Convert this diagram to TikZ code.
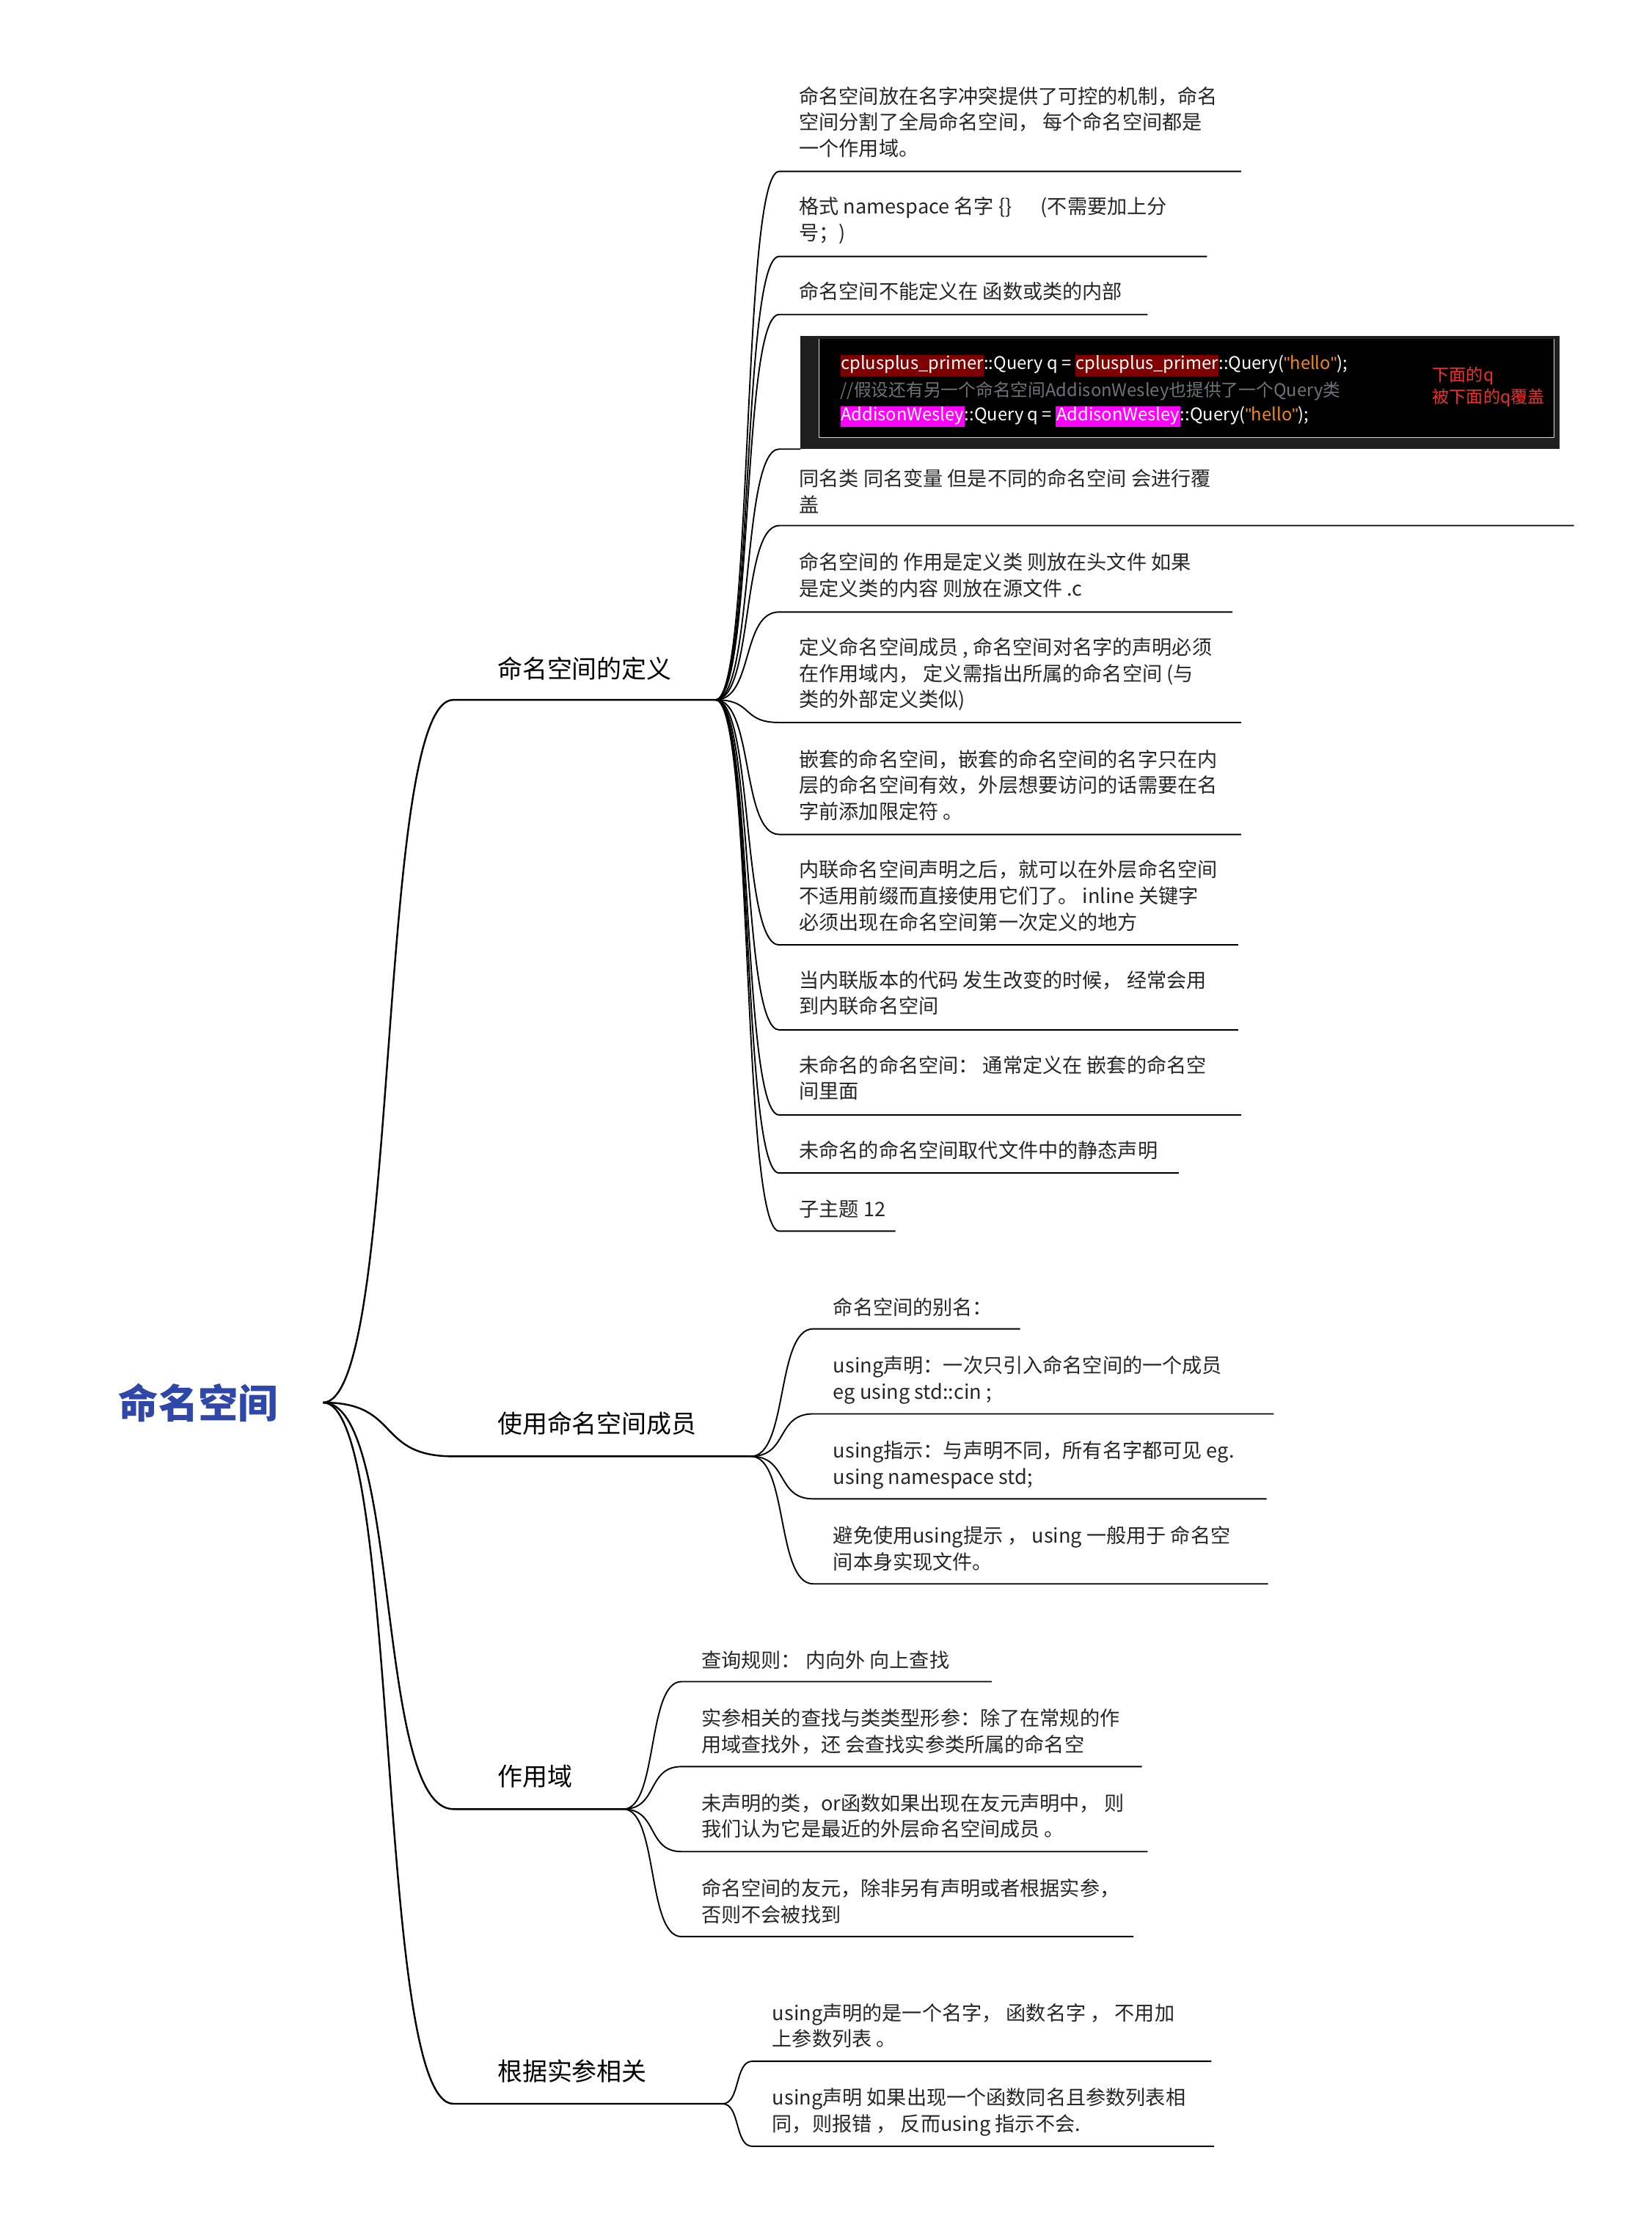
\documentclass[tikz,border=0pt]{standalone}
\usepackage{fontspec}
\setmainfont{Noto Sans CJK SC}
\newfontfamily\quotefont{Liberation Sans}
\usetikzlibrary{calc,positioning}
\definecolor{RootBlue}{HTML}{2E47A8}
\definecolor{HlRed}{HTML}{7F0000}
\definecolor{HlPink}{HTML}{FF00FF}
\definecolor{StrOrange}{HTML}{F08A1C}
\definecolor{CmtGray}{HTML}{6E7478}
\definecolor{NoteRed}{HTML}{F03030}
\newcommand\Hl[2]{{\setlength{\fboxsep}{0.5pt}\colorbox{#1}{\strut #2}}}
\newcommand\Qt{{\quotefont\symbol{34}}}
% curve from a parent point to the start of an underline, then the underline
\newcommand\Kid[7]{%
  \coordinate (#2-s) at (#3,#5);
  \coordinate (#2-e) at (#6,#5);
  \node[leaf] (#2) at (#3+14,#4-6) {#7};
  \draw[branch] (#1) .. controls ($(#1)!0.6!(#1 -| #2-s)$) and ($(#2-s)!0.6!(#2-s -| #1)$) .. (#2-s) -- (#2-e);
}
\begin{document}
\begin{tikzpicture}[x=0.5mm, y=-0.5mm,
                    branch/.style = { line width=1.4pt, black },
                    trunk/.style = { line width=1.8pt, black },
                    leaf/.style = { anchor=north west, inner sep=0pt, align=left,
                                    font=\fontsize{20}{26.3}\selectfont, text=black!85 },
                    topic/.style = { anchor=west, inner sep=0pt, font=\fontsize{25}{30}\selectfont },
                    code/.style = { anchor=west, inner sep=0pt, font=\fontsize{17.5}{20}\selectfont, text=white }]
  \useasboundingbox (0,0) rectangle (1166,1572);

  % root
  \node[anchor=center, inner sep=0pt, font=\fontsize{40}{44}\selectfont\bfseries, text=RootBlue] (root) at (140,990) {命名空间};
  \coordinate (root-r) at (228,990);

  % main topics
  \coordinate (def-s) at (320,494);  \coordinate (def-e) at (505,494);
  \coordinate (use-s) at (320,1028); \coordinate (use-e) at (530,1028);
  \coordinate (sco-s) at (320,1277); \coordinate (sco-e) at (440,1277);
  \coordinate (arg-s) at (320,1485); \coordinate (arg-e) at (510,1485);
  \node[topic] (def) at (351,472) {命名空间的定义};
  \node[topic] (use) at (351,1005) {使用命名空间成员};
  \node[topic] (sco) at (351,1254) {作用域};
  \node[topic] (arg) at (351,1462) {根据实参相关};
  \foreach \t in {def,use,sco,arg}
    \draw[trunk] (root-r) .. controls ($(root-r)!0.6!(root-r -| \t-s)$) and ($(\t-s)!0.6!(\t-s -| root-r)$) .. (\t-s) -- (\t-e);

  % definition
  \Kid{def-e}{d1}{550}{67}{121}{876}{命名空间放在名字冲突提供了可控的机制，命名\\空间分割了全局命名空间，  每个命名空间都是\\一个作用域。}
  \Kid{def-e}{d2}{550}{145}{181}{852}{格式 namespace 名字 \{\}  \quad\ (不需要加上分\\号；)}
  \Kid{def-e}{d3}{550}{205}{222}{810}{命名空间不能定义在 函数或类的内部}
  \fill[black!88] (565,237) rectangle (1101,317);
  \fill[black] (578,239) rectangle (1097,309);
  \draw[white!85!black, line width=0.8pt] (578,239) -- (578,309) -- (1097,309) -- (1097,239);
  \coordinate (d4-s) at (550,317); \coordinate (d4-e) at (565,317);
  \draw[branch] (def-e) .. controls ($(def-e)!0.6!(def-e -| d4-s)$) and ($(d4-s)!0.6!(d4-s -| def-e)$) .. (d4-s) -- (d4-e);
  \node[code] (c1) at (593,258) {\Hl{HlRed}{cplusplus\_primer}::Query q = \Hl{HlRed}{cplusplus\_primer}::Query(\textcolor{StrOrange}{\Qt hello\Qt});};
  \node[code, text=CmtGray] (c2) at (593,276) {//假设还有另一个命名空间AddisonWesley也提供了一个Query类};
  \node[code] (c3) at (593,294) {\Hl{HlPink}{AddisonWesley}::Query q = \Hl{HlPink}{AddisonWesley}::Query(\textcolor{StrOrange}{\Qt hello\Qt});};
  \node[code, text=NoteRed, font=\fontsize{17}{22}\selectfont, align=left] (note) at (1011,273) {下面的q\\被下面的q覆盖};
  \Kid{def-e}{d5}{550}{337}{371}{1111}{同名类 同名变量 但是不同的命名空间 会进行覆\\盖}
  \Kid{def-e}{d6}{550}{396}{432}{870}{命名空间的 作用是定义类  则放在头文件   如果\\是定义类的内容  则放在源文件 .c}
  \Kid{def-e}{d7}{550}{456}{510}{876}{定义命名空间成员 , 命名空间对名字的声明必须\\在作用域内，  定义需指出所属的命名空间   (与\\类的外部定义类似)}
  \Kid{def-e}{d8}{550}{535}{589}{876}{嵌套的命名空间，嵌套的命名空间的名字只在内\\层的命名空间有效，外层想要访问的话需要在名\\字前添加限定符 。}
  \Kid{def-e}{d9}{550}{613}{667}{874}{内联命名空间声明之后，就可以在外层命名空间\\不适用前缀而直接使用它们了。  inline 关键字\\必须出现在命名空间第一次定义的地方}
  \Kid{def-e}{d10}{550}{691}{727}{874}{当内联版本的代码 发生改变的时候，  经常会用\\到内联命名空间}
  \Kid{def-e}{d11}{550}{751}{787}{876}{未命名的命名空间：  通常定义在 嵌套的命名空\\间里面}
  \Kid{def-e}{d12}{550}{811}{828}{832}{未命名的命名空间取代文件中的静态声明}
  \Kid{def-e}{d13}{550}{853}{869}{632}{子主题 12}

  % using members
  \Kid{use-e}{u1}{574}{922}{938}{720}{命名空间的别名：}
  \Kid{use-e}{u2}{574}{963}{998}{899}{using声明：一次只引入命名空间的一个成员\\eg using std::cin ;}
  \Kid{use-e}{u3}{574}{1023}{1058}{894}{using指示：与声明不同，所有名字都可见  eg.\\using namespace std;}
  \Kid{use-e}{u4}{574}{1083}{1118}{895}{避免使用using提示 ，  using 一般用于 命名空\\间本身实现文件。}

  % scope
  \Kid{sco-e}{s1}{481}{1171}{1187}{700}{查询规则：  内向外  向上查找}
  \Kid{sco-e}{s2}{481}{1212}{1247}{806}{实参相关的查找与类类型形参：除了在常规的作\\用域查找外，还 会查找实参类所属的命名空}
  \Kid{sco-e}{s3}{481}{1272}{1307}{810}{未声明的类，or函数如果出现在友元声明中，  则\\我们认为它是最近的外层命名空间成员 。}
  \Kid{sco-e}{s4}{481}{1332}{1367}{800}{命名空间的友元，除非另有声明或者根据实参，\\否则不会被找到}

  % argument dependent
  \Kid{arg-e}{a1}{531}{1420}{1455}{855}{using声明的是一个名字，  函数名字  ，  不用加\\上参数列表 。}
  \Kid{arg-e}{a2}{531}{1480}{1515}{857}{using声明 如果出现一个函数同名且参数列表相\\同，则报错  ，  反而using 指示不会.}
\end{tikzpicture}
\end{document}
